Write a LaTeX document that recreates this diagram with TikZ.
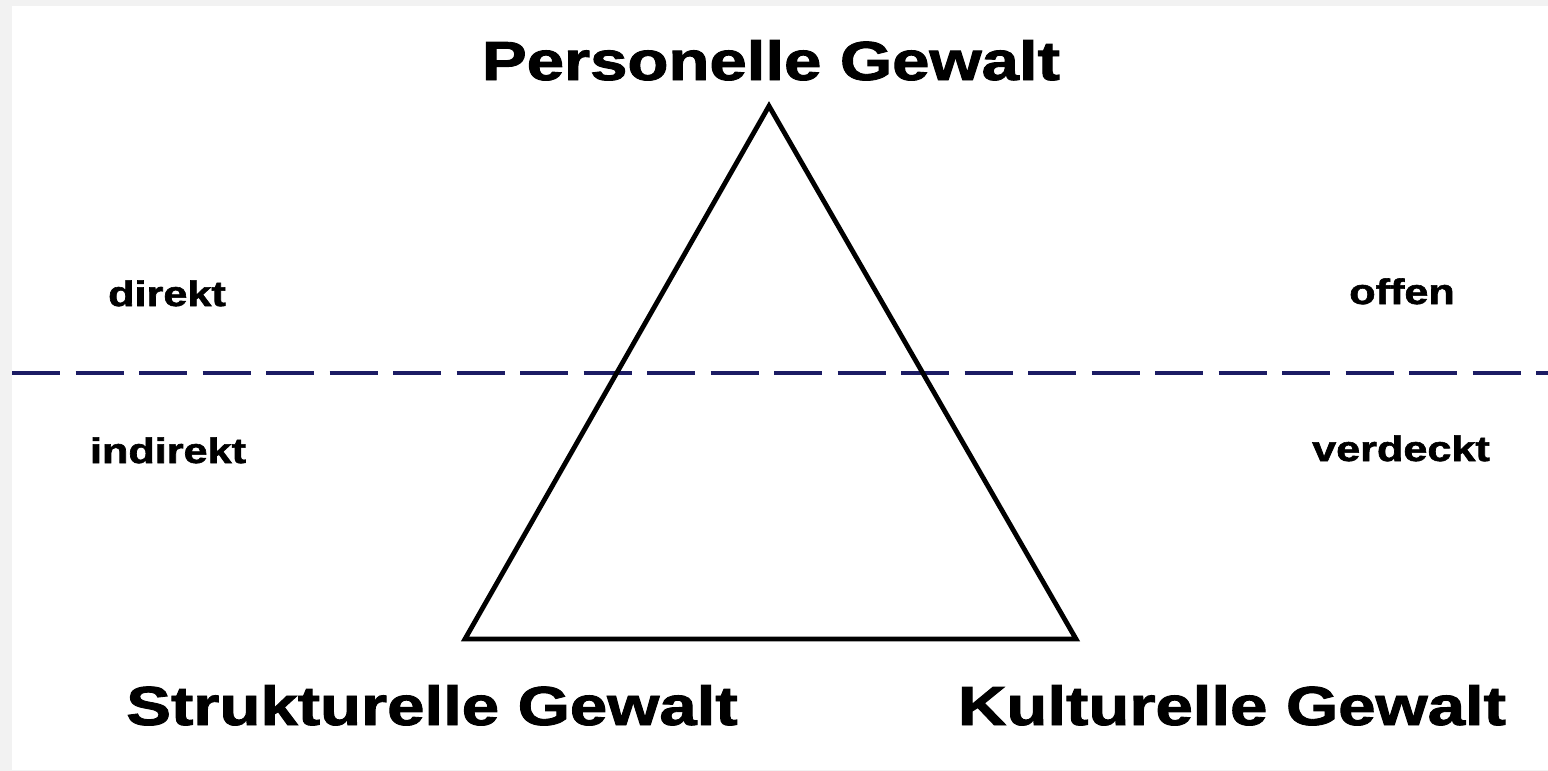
\documentclass[tikz,border=0pt]{standalone}
\usepackage{fontspec}
\usepackage{graphicx}
\setmainfont{Liberation Sans}[BoldFeatures={FakeBold=1.6}]
\definecolor{bggray}{HTML}{F2F2F2}
\definecolor{navyline}{RGB}{28,28,100}
\begin{document}
\begin{tikzpicture}[x=0.5pt,y=-0.5pt,
  bigtxt/.style={anchor=base,inner sep=0pt,font=\fontsize{27.5}{33}\selectfont\bfseries},
  smalltxt/.style={anchor=base,inner sep=0pt,font=\fontsize{17.7}{21}\selectfont\bfseries},
  edge/.style={line width=2.4pt,line join=miter},
  divider/.style={navyline,line width=2pt,dash pattern=on 24pt off 7.75pt}]
\useasboundingbox (0,0) rectangle (1548,771);
\fill[bggray] (0,0) rectangle (1548,771);
\fill[white] (12,6) rectangle (1548,770);
% divider
\coordinate (dl) at (12,373);
\coordinate (dr) at (1548,373);
\draw[divider] (dl) -- (dr);
% triangle
\coordinate (top) at (769,106);
\coordinate (bl) at (465,639);
\coordinate (br) at (1076,639);
\draw[edge] (top) -- (bl) -- (br) -- cycle;
% labels
\node[bigtxt] (pers) at (771,80) {\scalebox{1.22}[1]{Personelle Gewalt}};
\node[bigtxt] (strukt) at (432,725) {\scalebox{1.22}[1]{Strukturelle Gewalt}};
\node[bigtxt] (kult) at (1232,725) {\scalebox{1.22}[1]{Kulturelle Gewalt}};
\node[smalltxt] (direkt) at (167,306) {\scalebox{1.22}[1]{direkt}};
\node[smalltxt] (offen) at (1402,304) {\scalebox{1.22}[1]{offen}};
\node[smalltxt] (indirekt) at (168,463) {\scalebox{1.22}[1]{indirekt}};
\node[smalltxt] (verdeckt) at (1401,461) {\scalebox{1.22}[1]{verdeckt}};
\end{tikzpicture}
\end{document}
